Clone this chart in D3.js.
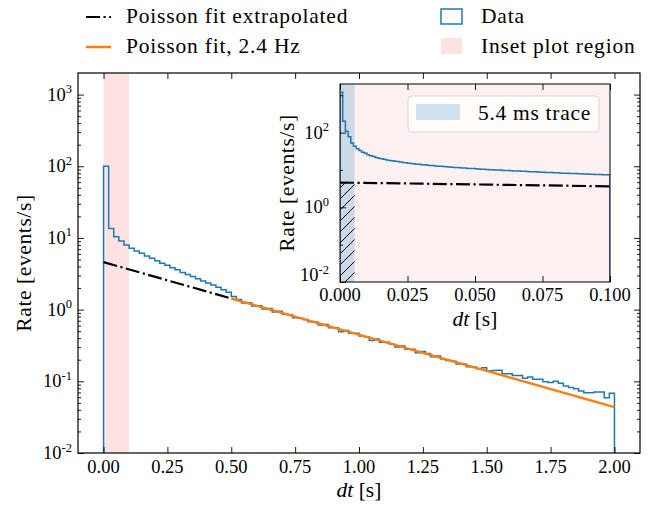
<!DOCTYPE html>
<html>
<head>
<meta charset="utf-8">
<script src="https://cdn.jsdelivr.net/npm/d3@7"></script>
<style>
  body { margin: 0; background: #fff; }
  svg text { font-family: "Liberation Serif", "DejaVu Serif", "Noto Serif", serif; fill: #000; }
</style>
</head>
<body>
<script>
// histogram, 0 - 2 s, bins of 20 ms
var mainBinWidth = 0.02;
var mainRates = [
  100, 13.6, 10.4, 9.1, 8.0, 7.2, 6.6, 6.1, 5.6, 5.2,
  4.8, 4.45, 4.15, 3.85, 3.6, 3.3, 3.1, 2.9, 2.7, 2.5,
  2.35, 2.2, 2.05, 1.9, 1.75, 1.52, 1.38, 1.24, 1.25, 1.12,
  1.13, 1.02, 1.04, 0.93, 0.95, 0.86, 0.85, 0.77, 0.76, 0.73,
  0.68, 0.67, 0.61, 0.62, 0.56, 0.56, 0.49, 0.51, 0.47, 0.47,
  0.43, 0.42, 0.37, 0.39, 0.35, 0.35, 0.33, 0.30, 0.31, 0.28,
  0.28, 0.25, 0.26, 0.245, 0.22, 0.225, 0.205, 0.195, 0.19, 0.175,
  0.175, 0.16, 0.158, 0.15, 0.155, 0.139, 0.142, 0.143, 0.128, 0.128,
  0.121, 0.121, 0.11, 0.115, 0.107, 0.107, 0.099, 0.096, 0.1, 0.094,
  0.086, 0.082, 0.079, 0.073, 0.069, 0.069, 0.071, 0.071, 0.059, 0.068
];

// inset histogram, 0 - 0.1 s, bins of 1 ms
var insetBinWidth = 0.001;
var insetRates = [
  1200, 200, 108, 78, 53, 43, 37, 33, 30, 28,
  25.5, 24, 22.8, 21.5, 20.5, 19.8, 19.4, 18.6, 18, 17.6,
  17, 16.8, 16.2, 15.8, 15.6, 15.1, 14.8, 14.7, 14.3, 14.1,
  13.8, 13.7, 13.4, 13.2, 13.1, 12.8, 12.6, 12.6, 12.3, 12.2,
  12.0, 11.9, 11.6, 11.6, 11.4, 11.3, 11.3, 11.0, 10.9, 10.9,
  10.7, 10.6, 10.5, 10.5, 10.3, 10.2, 10.2, 10.0, 9.9, 9.9,
  9.7, 9.7, 9.6, 9.5, 9.4, 9.4, 9.3, 9.2, 9.2, 9.05,
  9.0, 8.9, 8.9, 8.8, 8.7, 8.7, 8.6, 8.5, 8.5, 8.4,
  8.35, 8.3, 8.2, 8.2, 8.1, 8.05, 8.0, 8.0, 7.9, 7.85,
  7.8, 7.8, 7.7, 7.65, 7.6, 7.6, 7.5, 7.45, 7.4, 7.4
];

// poisson fit (straight on log axis): [dt, rate]
var fitExtrapolated = [[0, 4.6], [0.5, 1.43]];
var fitLine = [[0.5, 1.43], [2.0, 0.0436]];
var fitLabel = "Poisson fit, 2.4 Hz";

var insetRegion = [0, 0.1];
var traceLength = 0.0054;

var mainXTicks = [0, 0.25, 0.5, 0.75, 1.0, 1.25, 1.5, 1.75, 2.0];
var mainYTicks = [1e-2, 1e-1, 1e0, 1e1, 1e2, 1e3];
var insetXTicks = [0, 0.025, 0.05, 0.075, 0.1];
var insetYTicks = [1e-2, 1e0, 1e2];

var blue = "#1f77b4", orange = "#ff7f0e";
var serif = "'Liberation Serif', 'DejaVu Serif', serif";

var W = 658, H = 505;
var svg = d3.select("body").append("svg")
    .attr("width", W).attr("height", H)
    .attr("font-family", serif);

var defs = svg.append("defs");
defs.append("clipPath").attr("id", "clipMain")
  .append("rect").attr("x", 78).attr("y", 73).attr("width", 562).attr("height", 380);
defs.append("clipPath").attr("id", "clipInset")
  .append("rect").attr("x", 340).attr("y", 84).attr("width", 270).attr("height", 198);
var pat = defs.append("pattern").attr("id", "hatch")
    .attr("patternUnits", "userSpaceOnUse").attr("width", 11).attr("height", 11);
pat.append("path")
    .attr("d", "M-2,2 L2,-2 M0,11 L11,0 M9,13 L13,9")
    .attr("stroke", "#000").attr("stroke-width", 1);

var xMain = d3.scaleLinear().domain([-0.1, 2.1]).range([78, 640]);
var yMain = d3.scaleLog().domain([0.01, 2000]).range([453, 73]);
var xIn = d3.scaleLinear().domain([0, 0.1]).range([340, 610]);
var yIn = d3.scaleLog().domain([0.01, 2000]).range([282, 84]);

function stepPoints(rates, width) {
  var pts = [[0, 1e-4]];
  rates.forEach(function(v, i) {
    pts.push([i * width, v]);
    pts.push([(i + 1) * width, v]);
  });
  pts.push([rates.length * width, 1e-4]);
  return pts;
}

function minorTicks(lo, hi) {
  var out = [];
  for (var e = -3; e <= 4; e++) {
    for (var m = 2; m <= 9; m++) {
      var v = m * Math.pow(10, e);
      if (v > lo && v < hi) out.push(v);
    }
  }
  return out;
}

function drawFrame(x, y, sw) {
  var r = x.range(), s = y.range();
  svg.append("rect")
    .attr("x", r[0]).attr("y", s[1])
    .attr("width", r[1] - r[0]).attr("height", s[0] - s[1])
    .attr("fill", "none").attr("stroke", "#000").attr("stroke-width", sw);
}

function drawTicks(x, y, xt, yt, ymin, sideRight) {
  var r = x.range(), s = y.range();
  var xa = function(ax, t) { return ax.tickValues(t).tickSize(-6).tickFormat(""); };
  svg.append("g").attr("transform", "translate(0," + s[0] + ")")
    .call(xa(d3.axisBottom(x), xt));
  svg.append("g").attr("transform", "translate(0," + s[1] + ")")
    .call(xa(d3.axisTop(x), xt));
  svg.append("g").attr("transform", "translate(" + r[0] + ",0)")
    .call(xa(d3.axisLeft(y), yt));
  svg.append("g").attr("transform", "translate(" + r[0] + ",0)")
    .call(d3.axisLeft(y).tickValues(ymin).tickSize(-3).tickFormat(""));
  if (sideRight) {
    svg.append("g").attr("transform", "translate(" + r[1] + ",0)")
      .call(xa(d3.axisRight(y), yt));
    svg.append("g").attr("transform", "translate(" + r[1] + ",0)")
      .call(d3.axisRight(y).tickValues(ymin).tickSize(-3).tickFormat(""));
  }
  svg.selectAll(".domain").remove();
  svg.selectAll(".tick line").attr("stroke", "#000").attr("stroke-width", 0.9);
  svg.selectAll(".tick text").remove();
}

function expLabel(x, y, t) {
  var e = Math.round(Math.log10(t));
  var g = svg.append("text").attr("x", x).attr("y", y)
    .attr("text-anchor", "end").attr("font-size", 18.5);
  g.append("tspan").text("10");
  g.append("tspan").text(e < 0 ? "-" + (-e) : "" + e)
    .attr("font-size", 12.5).attr("dy", -7.5);
}

// ---------- main axes ----------
var main = svg.append("g").attr("clip-path", "url(#clipMain)");

main.append("rect")
    .attr("x", xMain(insetRegion[0])).attr("y", 73)
    .attr("width", xMain(insetRegion[1]) - xMain(insetRegion[0])).attr("height", 380)
    .attr("fill", "#ffe3e3");

var lineMain = d3.line()
    .x(function(d) { return xMain(d[0]); })
    .y(function(d) { return yMain(d[1]); });

main.append("path")
    .attr("d", lineMain(stepPoints(mainRates, mainBinWidth)))
    .attr("fill", "none").attr("stroke", blue).attr("stroke-width", 1.5);

main.append("path")
    .attr("d", lineMain(fitExtrapolated))
    .attr("fill", "none").attr("stroke", "#000").attr("stroke-width", 2.2)
    .attr("stroke-dasharray", "14,3.5,2.2,3.5");

main.append("path")
    .attr("d", lineMain(fitLine))
    .attr("fill", "none").attr("stroke", orange).attr("stroke-width", 2.5);

drawTicks(xMain, yMain, mainXTicks, mainYTicks, minorTicks(0.01, 2000), true);
drawFrame(xMain, yMain, 1.2);

mainXTicks.forEach(function(t) {
  svg.append("text").attr("x", xMain(t)).attr("y", 473)
    .attr("text-anchor", "middle").attr("font-size", 18.5)
    .text(d3.format(".2f")(t));
});
mainYTicks.forEach(function(t) { expLabel(72, yMain(t) + 6, t); });

svg.append("text")
    .attr("transform", "translate(31,263) rotate(-90)")
    .attr("text-anchor", "middle").attr("font-size", 21.5)
    .attr("letter-spacing", 0.6)
    .text("Rate [events/s]");
var xl = svg.append("text").attr("x", 359).attr("y", 497)
    .attr("text-anchor", "middle").attr("font-size", 21.5);
xl.append("tspan").attr("font-style", "italic").text("dt");
xl.append("tspan").text(" [s]");

// ---------- inset ----------
svg.append("rect").attr("x", 340).attr("y", 84).attr("width", 270).attr("height", 198)
    .attr("fill", "#fff");
var ins = svg.append("g").attr("clip-path", "url(#clipInset)");
ins.append("rect").attr("x", 340).attr("y", 84).attr("width", 270).attr("height", 198)
    .attr("fill", "#fdf0f0");
ins.append("rect")
    .attr("x", xIn(0)).attr("y", 84)
    .attr("width", xIn(traceLength) - xIn(0)).attr("height", 198)
    .attr("fill", "#ced9e6");

var lineIn = d3.line()
    .x(function(d) { return xIn(d[0]); })
    .y(function(d) { return yIn(d[1]); });

ins.append("path")
    .attr("d", lineIn([[0, 1e-4], [0, fitExtrapolated[0][1]], [traceLength, 4.55], [traceLength, 1e-4]]))
    .attr("fill", "url(#hatch)");

ins.append("path")
    .attr("d", lineIn(stepPoints(insetRates, insetBinWidth)))
    .attr("fill", "none").attr("stroke", blue).attr("stroke-width", 1.5);

ins.append("path")
    .attr("d", lineIn(fitExtrapolated))
    .attr("fill", "none").attr("stroke", "#000").attr("stroke-width", 2.2)
    .attr("stroke-dasharray", "14,3.5,2.2,3.5");

drawTicks(xIn, yIn, insetXTicks, insetYTicks, [1e-1, 1e1, 1e3], false);
drawFrame(xIn, yIn, 1);

insetXTicks.forEach(function(t) {
  svg.append("text").attr("x", xIn(t)).attr("y", 301)
    .attr("text-anchor", "middle").attr("font-size", 18.5)
    .text(d3.format(".3f")(t));
});
insetYTicks.forEach(function(t) {
  expLabel(329, t === 1e-2 ? yIn(t) - 1 : yIn(t) + 6, t);
});
svg.append("text")
    .attr("transform", "translate(294,183) rotate(-90)")
    .attr("text-anchor", "middle").attr("font-size", 21.5)
    .attr("letter-spacing", 0.6)
    .text("Rate [events/s]");
var xl2 = svg.append("text").attr("x", 475).attr("y", 326)
    .attr("text-anchor", "middle").attr("font-size", 21.5);
xl2.append("tspan").attr("font-style", "italic").text("dt");
xl2.append("tspan").text(" [s]");

// inset legend
svg.append("rect").attr("x", 408).attr("y", 96).attr("width", 191).attr("height", 36)
    .attr("rx", 4).attr("fill", "#fff").attr("fill-opacity", 0.8)
    .attr("stroke", "#d6d6d6").attr("stroke-width", 1);
svg.append("rect").attr("x", 416).attr("y", 104).attr("width", 44).attr("height", 16)
    .attr("fill", "#cfe0ef");
svg.append("text").attr("x", 478).attr("y", 120).attr("font-size", 21.5)
    .attr("letter-spacing", 0.7).text("5.4 ms trace");

// ---------- top legend ----------
var leg = svg.append("g");
leg.append("line").attr("x1", 86).attr("x2", 111).attr("y1", 17).attr("y2", 17)
    .attr("stroke", "#000").attr("stroke-width", 2.2)
    .attr("stroke-dasharray", "14,3.5,2.2,3.5");
leg.append("line").attr("x1", 86).attr("x2", 111).attr("y1", 47).attr("y2", 47)
    .attr("stroke", orange).attr("stroke-width", 2.5);
leg.append("rect").attr("x", 441).attr("y", 9).attr("width", 21).attr("height", 15)
    .attr("fill", "none").attr("stroke", blue).attr("stroke-width", 1.5);
leg.append("rect").attr("x", 441).attr("y", 38).attr("width", 21).attr("height", 16)
    .attr("fill", "#ffe3e3");
[["Poisson fit extrapolated", 126, 23], [fitLabel, 126, 53],
 ["Data", 481, 23], ["Inset plot region", 481, 53]].forEach(function(d) {
  leg.append("text").attr("x", d[1]).attr("y", d[2]).attr("font-size", 21.5)
    .attr("letter-spacing", 0.8).text(d[0]);
});
</script>
</body>
</html>
